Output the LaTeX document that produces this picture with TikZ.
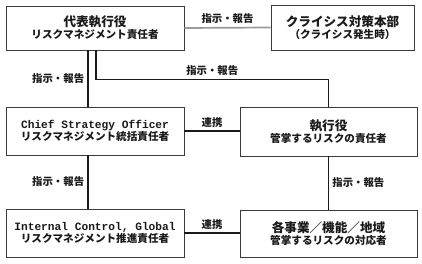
\documentclass[tikz,border=0pt]{standalone}
\usepackage{fontspec}
\setmainfont{Noto Sans CJK JP}
\newfontfamily\latinmono{Liberation Mono}
\usetikzlibrary{positioning}
\definecolor{ink}{HTML}{1A1A1A}
\definecolor{frame}{HTML}{3A3A3A}
\definecolor{haze}{HTML}{9A9A9A}
\newcommand{\headjp}{\fontsize{12.6}{15}\selectfont}
\newcommand{\subjp}{\fontsize{10.6}{14}\selectfont}
\newcommand{\headen}{\latinmono\fontsize{11.2}{15}\selectfont}
\tikzset{
  orgbox/.style={draw=frame,line width=0.8pt,fill=white,align=center,text=ink,inner sep=2pt,font=\bfseries,minimum width=178pt,minimum height=47pt},
  link/.style={draw=ink,line width=1.7pt},
  glink/.style={draw=haze,line width=1.7pt},
  lbl/.style={font=\bfseries\fontsize{10.4}{12}\selectfont,text=ink,inner sep=3pt},
}
\begin{document}
\begin{tikzpicture}[x=1pt,y=-1pt]
  \useasboundingbox (0,0) rectangle (422,263);
  \node[orgbox,minimum height=44pt] (ceo) at (95,28) {{\headjp 代表執行役}\\{\subjp リスクマネジメント責任者}};
  \node[orgbox,minimum width=143pt,minimum height=45pt] (crisis) at (342.5,27.5) {{\headjp クライシス対策本部}\\{\subjp （クライシス発生時）}};
  \node[orgbox,minimum height=48pt] (cso) at (95,131) {{\headen Chief Strategy Officer}\\{\subjp リスクマネジメント統括責任者}};
  \node[orgbox,minimum width=177pt,minimum height=49pt] (exec) at (328.5,131.5) {{\headjp 執行役}\\{\subjp 管掌するリスクの責任者}};
  \node[orgbox,minimum height=48pt] (icg) at (95,233) {{\headen Internal Control, Global}\\{\subjp リスクマネジメント推進責任者}};
  \node[orgbox,minimum width=177pt,minimum height=47pt] (unit) at (328.5,233.5) {{\headjp 各事業／機能／地域}\\{\subjp 管掌するリスクの対応者}};

  \draw[glink] (ceo.east) -- node[lbl,above] {指示・報告} (crisis.west);
  \draw[link] ([xshift=-7pt]ceo.south) -- node[lbl,left] {指示・報告} ([xshift=-7pt]cso.north);
  \draw[link] ([xshift=1pt]ceo.south) -- ++(0,29) -| node[lbl,above,pos=0.25] {指示・報告} (exec.north);
  \draw[link] (cso.east) -- node[lbl,above] {連携} (cso.east -| exec.west);
  \draw[link] ([xshift=-7pt]cso.south) -- node[lbl,left] {指示・報告} ([xshift=-7pt]icg.north);
  \draw[link] (exec.south) -- node[lbl,right] {指示・報告} (unit.north);
  \draw[link] (icg.east) -- node[lbl,above] {連携} (icg.east -| unit.west);
\end{tikzpicture}
\end{document}
